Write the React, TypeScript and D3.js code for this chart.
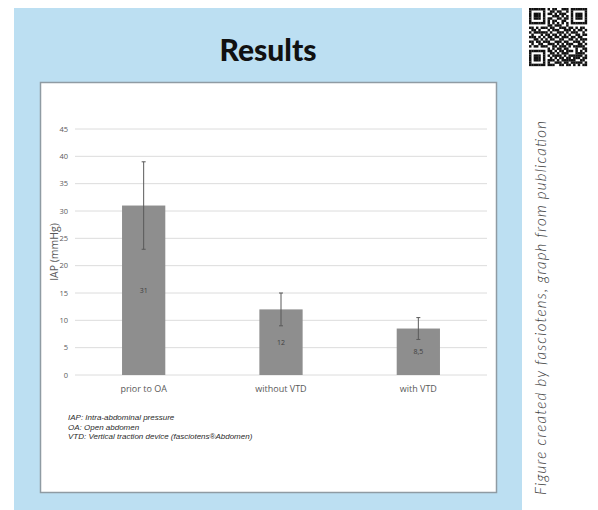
import React from "react";
import * as d3 from "d3";

// Intra-abdominal pressure by phase
const categories = ["prior to OA", "without VTD", "with VTD"];
const meanValues = [31, 12, 8.5];
const errorLow = [23, 9, 6.5];
const errorHigh = [39, 15, 10.5];
const valueLabels = ["31", "12", "8,5"];
const yTicks = [0, 5, 10, 15, 20, 25, 30, 35, 40, 45];
const footnotes = [
  "IAP: Intra-abdominal pressure",
  "OA: Open abdomen",
  "VTD: Vertical traction device (fasciotens®Abdomen)",
];

// 25x25 module pattern for the QR badge
const qrRows = [
  "1111111010110011101111111",
  "1000001001101100101000001",
  "1011101011010111001011101",
  "1011101000111010101011101",
  "1011101011001101101011101",
  "1000001010110011001000001",
  "1111111010101010101111111",
  "0000000011011100100000000",
  "1101011101100111011010110",
  "0110100010111001110101101",
  "1011111101001110101110010",
  "0100010110110101010011011",
  "1110101011011011101101100",
  "0011010101100110011010111",
  "1101101110011101100111010",
  "0100110011101010111001101",
  "1011011100110111010111110",
  "0000000010101101100010011",
  "1111111011010110111010101",
  "1000001001101011100011110",
  "1011101010111101011111101",
  "1011101001010110110111011",
  "1011101011101011111100110",
  "1000001010011101101111101",
  "1111111011100110110101011",
];

const W = 598;
const H = 510;
const plot = { left: 75, right: 487, top: 129, bottom: 375 };

export default function App() {
  const x = d3
    .scaleBand<string>()
    .domain(categories)
    .range([plot.left, plot.right])
    .padding(0);
  const barW = x.bandwidth() * 0.315;
  const y = d3.scaleLinear().domain([0, 45]).range([plot.bottom, plot.top]);

  const qrX = 529;
  const qrY = 8;
  const qrSize = 58;
  const mod = qrSize / 25;

  return (
    <div style={{ position: "absolute", left: 0, top: 0 }}>
      <svg width={W} height={H} style={{ display: "block" }}>
        <rect x={0} y={0} width={W} height={H} fill="#ffffff" />
        {/* poster panel */}
        <rect x={14} y={8} width={508} height={H - 8} fill="#bcdff2" />
        <text
          x={268}
          y={61}
          textAnchor="middle"
          fontFamily="Lato, 'Open Sans', sans-serif"
          fontWeight={900}
          fontSize={30}
          fill="#111"
        >
          Results
        </text>

        {/* QR badge */}
        <g>
          {qrRows.map((row, r) =>
            row.split("").map((c, col) =>
              c === "1" ? (
                <rect
                  key={`${r}-${col}`}
                  x={qrX + col * mod}
                  y={qrY + r * mod}
                  width={mod + 0.15}
                  height={mod + 0.15}
                  fill="#111"
                />
              ) : null
            )
          )}
        </g>

        {/* side credit */}
        <text
          transform="translate(546,495) rotate(-90)"
          fontFamily="Lato, sans-serif"
          fontStyle="italic"
          fontWeight={300}
          fontSize={15}
          textLength={374}
          lengthAdjust="spacing"
          fill="#3a3a3a"
        >
          Figure created by fasciotens, graph from publication
        </text>

        {/* chart card */}
        <rect
          x={40.5}
          y={82.5}
          width={456}
          height={410}
          fill="#ffffff"
          stroke="#8f9ba3"
          strokeWidth={1.5}
        />

        {/* gridlines and y ticks */}
        {yTicks.map((t) => (
          <g key={t}>
            <line
              x1={plot.left}
              x2={plot.right}
              y1={y(t)}
              y2={y(t)}
              stroke="#dcdcdc"
              strokeWidth={1}
            />
            <text
              x={68}
              y={y(t)}
              dy="0.35em"
              textAnchor="end"
              fontFamily="'Open Sans', sans-serif"
              fontSize={7.5}
              fill="#5a5a5a"
            >
              {t}
            </text>
          </g>
        ))}

        <text
          transform={`translate(58,${(plot.top + plot.bottom) / 2}) rotate(-90)`}
          textAnchor="middle"
          fontFamily="'Open Sans', sans-serif"
          fontSize={10.5}
          fill="#595959"
        >
          IAP (mmHg)
        </text>

        {/* bars, error bars, labels */}
        {categories.map((c, i) => {
          const cx = (x(c) as number) + x.bandwidth() / 2;
          return (
            <g key={c}>
              <rect
                x={cx - barW / 2}
                y={y(meanValues[i])}
                width={barW}
                height={y(0) - y(meanValues[i])}
                fill="#8e8e8e"
              />
              <line
                x1={cx}
                x2={cx}
                y1={y(errorHigh[i])}
                y2={y(errorLow[i])}
                stroke="#595959"
                strokeWidth={1}
              />
              <line
                x1={cx - 2}
                x2={cx + 2}
                y1={y(errorHigh[i])}
                y2={y(errorHigh[i])}
                stroke="#595959"
                strokeWidth={1}
              />
              <line
                x1={cx - 2}
                x2={cx + 2}
                y1={y(errorLow[i])}
                y2={y(errorLow[i])}
                stroke="#595959"
                strokeWidth={1}
              />
              <text
                x={cx}
                y={y(meanValues[i] / 2)}
                dy="0.35em"
                textAnchor="middle"
                fontFamily="'Open Sans', sans-serif"
                fontSize={7}
                fill="#404040"
              >
                {valueLabels[i]}
              </text>
              <text
                x={cx}
                y={392}
                textAnchor="middle"
                fontFamily="'Open Sans', sans-serif"
                fontSize={9}
                fill="#595959"
              >
                {c}
              </text>
            </g>
          );
        })}

        {/* footnotes */}
        {footnotes.map((f, i) => (
          <text
            key={f}
            x={68}
            y={420 + i * 9.5}
            fontFamily="'Liberation Sans', Arial, sans-serif"
            fontStyle="italic"
            fontSize={8}
            fill="#2a2a2a"
          >
            {f}
          </text>
        ))}
      </svg>
    </div>
  );
}
